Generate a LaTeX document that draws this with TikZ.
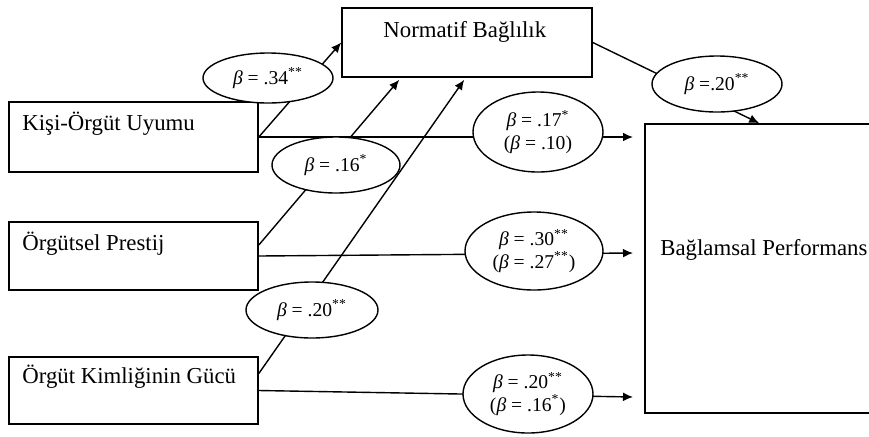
\documentclass[tikz,border=0pt]{standalone}
\usepackage{fontspec}
\setmainfont{Liberation Serif}
\usetikzlibrary{arrows.meta,calc,shapes.geometric}
\newcommand{\bt}{\textit{β}}
\newcommand{\st}[1]{\textsuperscript{#1}}
\begin{document}
\begin{tikzpicture}[x=0.5pt,y=-0.5pt,
  box/.style={draw, line width=0.8pt, rectangle, inner sep=0pt},
  lbl/.style={anchor=base west, inner sep=0pt, font=\fontsize{11.4}{13}\selectfont},
  est/.style={draw, ellipse, fill=white, line width=0.7pt, inner sep=0pt, align=center,
    font=\fontsize{9.8}{11.2}\selectfont},
  arr/.style={-{Latex[length=5pt,width=4.4pt]}, line width=0.7pt},
  ln/.style={line width=0.7pt}
]
\useasboundingbox (0,0) rectangle (869,436);
\clip (0,0) rectangle (869,436);

% boxes
\node[box, minimum width=124.5pt, minimum height=35pt] (kisi) at (133.5,137) {};
\node[box, minimum width=124.5pt, minimum height=34pt] (pres) at (133.5,256) {};
\node[box, minimum width=124.5pt, minimum height=33.5pt] (kim) at (133.5,390.5) {};
\node[box, minimum width=125pt, minimum height=34.5pt] (nor) at (467,42.5) {};
\node[box, minimum width=127.5pt, minimum height=144.5pt] (bag) at (772.5,268.5) {};

% labels
\node[lbl] (kisit) at (22,130) {Kişi-Örgüt Uyumu};
\node[lbl] (prest) at (22,250) {Örgütsel Prestij};
\node[lbl] (kimt) at (22,383) {Örgüt Kimliğinin Gücü};
\node[lbl] (nort) at (383,37) {Normatif Bağlılık};
\node[lbl] (bagt) at (660,255) {Bağlamsal Performans};

% coordinates
\coordinate (t1) at (633,137);
\coordinate (t2) at (633,253);
\coordinate (t3) at (633,397);

% connectors
\draw[arr] (kisi.east) -- (nor.west);
\draw[arr] ($(pres.east)+(0,-11)$) -- ($(nor.south west)+(58,2)$);
\draw[arr] ($(kim.east)+(0,-17)$) -- ($(nor.south west)+(123,2)$);
\draw[arr] (kisi.east) -- (t1);
\draw[arr] (pres.east) -- (t2);
\draw[arr] (kim.east) -- (t3);
\draw[arr] (nor.east) -- ($(bag.north west)+(115,0)$);

% estimates
\node[est, minimum width=65pt, minimum height=25pt] (e1) at (268,78) {\bt{} = .34\st{**}};
\node[est, minimum width=64pt, minimum height=28pt] (e2) at (336,165) {\bt{} = .16\st{*}};
\node[est, minimum width=66pt, minimum height=28pt] (e3) at (312,310) {\bt{} = .20\st{**}};
\node[est, minimum width=65pt, minimum height=40pt] (e4) at (538,132) {\bt{} = .17\st{*}\\(\bt{} = .10)};
\node[est, minimum width=69pt, minimum height=39pt] (e5) at (534,251) {\bt{} = .30\st{**}\\(\bt{} = .27\st{**})};
\node[est, minimum width=65pt, minimum height=39pt] (e6) at (528,394) {\bt{} = .20\st{**}\\(\bt{} = .16\st{*})};
\node[est, minimum width=65pt, minimum height=28pt] (e7) at (717,84) {\bt{} =.20\st{**}};
\end{tikzpicture}
\end{document}
